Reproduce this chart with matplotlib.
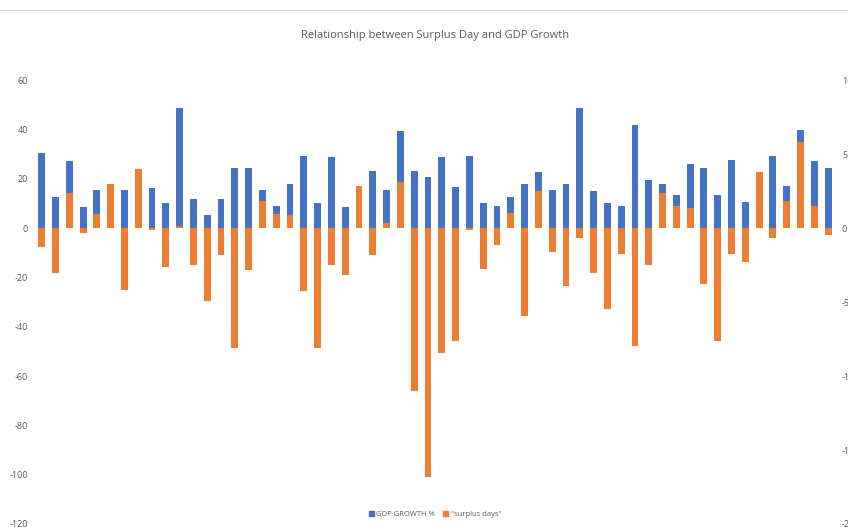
import matplotlib
matplotlib.use('Agg')
import matplotlib.pyplot as plt
from matplotlib.lines import Line2D
from matplotlib.patches import Patch
import numpy as np

# GDP growth (left axis) and surplus days (right axis), one pair per category
gdp_growth = [30.4, 12.4, 27.0, 8.5, 15.4, 14.0, 15.4, 20.0, 16.4, 10.1,
              48.6, 11.9, 5.4, 11.9, 24.3, 24.3, 15.4, 8.9, 18.0, 29.2,
              10.1, 28.8, 8.5, 14.0, 23.1, 15.4, 39.5, 23.1, 20.9, 28.8,
              16.6, 29.2, 10.1, 8.9, 12.4, 18.0, 22.7, 15.4, 18.0, 48.6,
              15.0, 10.1, 8.9, 41.6, 19.3, 18.0, 13.6, 26.1, 24.5, 13.6,
              27.4, 10.7, 19.0, 29.2, 17.0, 39.9, 27.0, 24.5]
surplus_days = [-1.28, -3.02, 2.34, -0.32, 0.97, 3.0, -4.17, 4.0, -0.14, -2.66,
                0.14, -2.5, -4.95, -1.8, -8.1, -2.82, 1.85, 0.97, 0.86, -4.28,
                -8.1, -2.5, -3.15, 2.84, -1.8, 0.34, 3.13, -11.0, -16.8, -8.47,
                -7.6, -0.14, -2.8, -1.13, 0.99, -5.97, 2.48, -1.64, -3.94, -0.65,
                -3.02, -5.45, -1.78, -7.97, -2.5, 2.34, 1.49, 1.35, -3.8, -7.6,
                -1.78, -2.3, 3.76, -0.65, 1.85, 5.79, 1.49, -0.5]

blue = '#4472C4'
orange = '#ED7D31'
grey = '#595959'

plt.rcParams['font.family'] = ['Open Sans', 'DejaVu Sans']
plt.rcParams['axes.unicode_minus'] = False

fig = plt.figure(figsize=(8.48, 5.27), dpi=100)
ax1 = fig.add_axes([0.041, 0.0057, 0.9437, 0.8423])
ax2 = ax1.twinx()

x = np.arange(len(gdp_growth))
ax1.bar(x, gdp_growth, width=0.5, color=blue)
ax2.bar(x, surplus_days, width=0.5, color=orange)

ax1.set_xlim(-0.5, len(x) - 0.5)
ax1.set_ylim(-120, 60)
ax2.set_ylim(-20, 10)
ax1.set_yticks(range(-120, 61, 20))
ax2.set_yticks(range(-20, 11, 5))
ax1.set_xticks([])

for ax in (ax1, ax2):
    for s in ax.spines.values():
        s.set_visible(False)
    ax.tick_params(axis='y', length=0, labelsize=6.5, labelcolor=grey, pad=5)

fig.text(0.513, 0.933, 'Relationship between Surplus Day and GDP Growth',
         ha='center', va='center', fontsize=8.0, color=grey)

# thin border line along the top of the chart area
fig.add_artist(Line2D([0, 1], [0.981, 0.981], color='#d9d9d9', lw=0.8,
                      transform=fig.transFigure))

handles = [Patch(color=blue, label='GDP GROWTH %'),
           Patch(color=orange, label='"surplus days"')]
fig.legend(handles=handles, loc='center', bbox_to_anchor=(0.513, 0.024), ncol=2,
           frameon=False, fontsize=5.5, handlelength=0.7, handleheight=0.7,
           handletextpad=0.3, columnspacing=1.0, labelcolor=grey)

fig.savefig('out.png', dpi=100)
